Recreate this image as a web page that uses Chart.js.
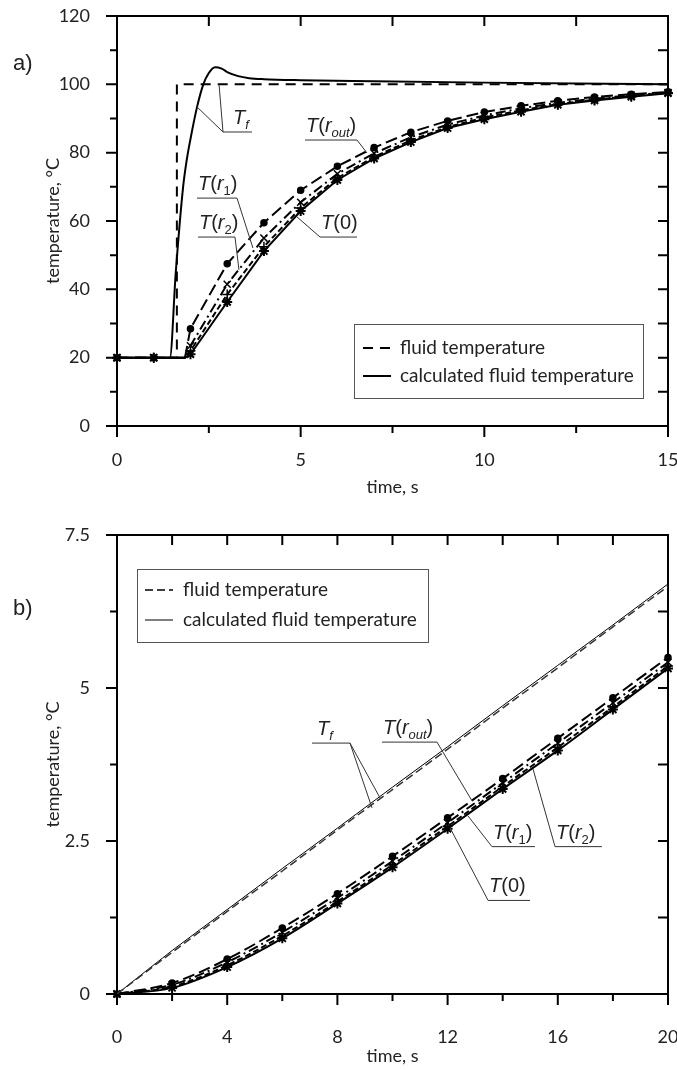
<!DOCTYPE html>
<html>
<head>
<meta charset="utf-8">
<script src="https://cdn.jsdelivr.net/npm/chart.js@4.4.1/dist/chart.umd.min.js"></script>
<style>
  html, body { margin: 0; padding: 0; overflow: hidden; background: #fff; width: 677px; height: 1070px; }
  .wrap { position: absolute; left: 0; }
  #wrapA { top: 0; }
  #wrapB { top: 520px; }
</style>
</head>
<body>
<div class="wrap" id="wrapA"><canvas id="chartA" width="700" height="520" style="width:700px;height:520px"></canvas></div>
<div class="wrap" id="wrapB"><canvas id="chartB" width="700" height="550" style="width:700px;height:550px"></canvas></div>
<script>
// ---- panel a) data, time in s, temperature in C ----
const timeA = [0, 1, 1.85, 2, 3, 4, 5, 6, 7, 8, 9, 10, 11, 12, 13, 14, 15];
const rOutA = [20, 20, 20, 28.5, 47.5, 59.5, 69, 76, 81.5, 86, 89.3, 91.9, 93.7, 95.2, 96.3, 97.1, 97.8];
const r1A   = [20, 20, 20, 23.5, 41.5, 55, 65.5, 73.8, 79.8, 84.5, 88.2, 90.9, 93, 94.6, 95.8, 96.8, 97.6];
const r2A   = [20, 20, 20, 22, 38.5, 52.5, 63.8, 72.6, 78.8, 83.6, 87.5, 90.3, 92.4, 94.2, 95.5, 96.6, 97.5];
const t0A   = [20, 20, 20, 21, 36.3, 51.2, 62.9, 72, 78.3, 83.1, 87.2, 89.8, 92, 94, 95.3, 96.4, 97.4];

const timeFluidA = [0, 1.63, 1.63, 15];
const fluidA     = [20, 20, 100, 100];

const timeCalcA = [0, 1.44, 1.6, 1.8, 1.9, 2.0, 2.18, 2.35, 2.5, 2.67, 2.85, 3.0, 3.3, 3.6, 4.0, 5, 7, 10, 15];
const calcA     = [20, 20, 45, 70, 78, 84, 93.4, 100, 103.3, 105, 104.6, 103.6, 102.4, 101.8, 101.5, 101.2, 100.9, 100.5, 100.0];

// ---- panel b) data ----
const timeB  = [0, 2, 4, 6, 8, 10, 12, 14, 16, 18, 20];
const fluidB = [0, 0.68, 1.35, 2.01, 2.68, 3.34, 4.0, 4.67, 5.33, 6.0, 6.66];
const calcB  = [0, 0.71, 1.38, 2.05, 2.71, 3.38, 4.04, 4.71, 5.37, 6.03, 6.7];
const rOutB  = [0, 0.18, 0.57, 1.08, 1.64, 2.25, 2.88, 3.52, 4.18, 4.84, 5.5];
const r1B    = [0, 0.15, 0.52, 1.01, 1.57, 2.17, 2.8, 3.45, 4.1, 4.76, 5.42];
const r2B    = [0, 0.12, 0.47, 0.95, 1.51, 2.11, 2.74, 3.39, 4.03, 4.69, 5.36];
const t0B    = [0, 0.1, 0.44, 0.91, 1.48, 2.07, 2.7, 3.35, 3.98, 4.65, 5.32];

const legendLabels = ['fluid temperature', 'calculated fluid temperature'];

Chart.defaults.font.family = 'Lato';
Chart.defaults.color = '#222';

const pts = (xs, ys) => xs.map((x, i) => ({x: x, y: ys[i]}));
const isMajor = (v, step) => Math.abs(v / step - Math.round(v / step)) < 1e-6;

// frame round the plot and the tick marks (outside on bottom/left, inside on top/right)
const framePlugin = {
  id: 'frame',
  beforeDatasetsDraw(chart, args, opts) {
    const {ctx, chartArea: a, scales: {x, y}} = chart;
    ctx.save();
    ctx.strokeStyle = '#000';
    ctx.lineWidth = 2;
    ctx.strokeRect(a.left, a.top, a.right - a.left, a.bottom - a.top);
    ctx.beginPath();
    x.ticks.forEach(t => {
      const p = x.getPixelForValue(t.value);
      const len = isMajor(t.value, opts.xMajor) ? 11 : 7;
      ctx.moveTo(p, a.bottom); ctx.lineTo(p, a.bottom + len);
      ctx.moveTo(p, a.top); ctx.lineTo(p, a.top + 10);
    });
    y.ticks.forEach(t => {
      const p = y.getPixelForValue(t.value);
      const len = isMajor(t.value, opts.yMajor) ? 11 : 7;
      ctx.moveTo(a.left - len, p); ctx.lineTo(a.left, p);
      ctx.moveTo(a.right - 10, p); ctx.lineTo(a.right, p);
    });
    ctx.stroke();
    ctx.restore();
  }
};

function drawRich(ctx, segs, x, y) {
  segs.forEach(s => {
    const size = s.sub ? 13 : 20;
    ctx.font = (s.it ? 'italic ' : '') + size + 'px "Liberation Sans"';
    ctx.fillText(s.t, x, s.sub ? y + 5 : y);
    x += ctx.measureText(s.t).width;
  });
}

// legend box, curve labels and the panel letter
const notesPlugin = {
  id: 'notes',
  afterDraw(chart, args, opts) {
    const {ctx, scales: {x, y}} = chart;
    ctx.save();
    ctx.fillStyle = '#222';
    ctx.textBaseline = 'alphabetic';
    ctx.font = '22px "Liberation Sans"';
    ctx.fillText(opts.panel.text, opts.panel.x, opts.panel.y);

    ctx.strokeStyle = '#333';
    ctx.lineWidth = 1;
    opts.items.forEach(it => {
      const x1 = x.getPixelForValue(it.x1), x2 = x.getPixelForValue(it.x2), py = y.getPixelForValue(it.y);
      const sx = it.from === 'left' ? x1 : x2;
      ctx.beginPath();
      ctx.moveTo(x1, py); ctx.lineTo(x2, py);
      it.to.forEach(p => {
        ctx.moveTo(sx, py);
        ctx.lineTo(x.getPixelForValue(p[0]), y.getPixelForValue(p[1]));
      });
      ctx.stroke();
      drawRich(ctx, it.segs, x1 + (it.dx || 1), py - 8);
    });

    const lg = opts.legend;
    ctx.strokeStyle = '#555';
    ctx.strokeRect(lg.x + 0.5, lg.y + 0.5, lg.w, lg.h);
    lg.rows.forEach((r, i) => {
      const ds = chart.data.datasets[i];
      ctx.save();
      ctx.strokeStyle = '#000';
      ctx.lineWidth = ds.borderWidth;
      ctx.setLineDash(ds.borderDash || []);
      ctx.beginPath();
      ctx.moveTo(lg.x1, r); ctx.lineTo(lg.x2, r);
      ctx.stroke();
      ctx.restore();
      ctx.font = '19px Lato';
      ctx.textBaseline = 'middle';
      ctx.fillText(legendLabels[i], lg.tx, r);
    });
    ctx.restore();
  }
};

const segT = (inner, sub) => {
  const s = [{t: 'T', it: true}, {t: '('}];
  if (inner === 'r') { s.push({t: 'r', it: true}); s.push({t: sub, it: sub === 'out', sub: true}); }
  else s.push({t: inner});
  s.push({t: ')'});
  return s;
};
const segTf = [{t: 'T', it: true}, {t: 'f', it: true, sub: true}];

// smooth: monotone curve, otherwise straight pieces between the points
function tempSeries(xs, ys, style, dash, width, markerAll, smooth) {
  const radius = {circle: 3, crossRot: 5, cross: 5, star: 5}[style];
  return {
    data: pts(xs, ys),
    borderColor: '#000',
    borderWidth: width,
    borderDash: dash,
    pointStyle: style,
    pointRadius: c => (markerAll || Number.isInteger(xs[c.dataIndex])) ? radius : 0,
    pointBackgroundColor: '#000',
    pointBorderColor: '#000',
    pointBorderWidth: style === 'star' ? 2 : 1.5,
    cubicInterpolationMode: smooth ? 'monotone' : 'default',
    tension: 0,
    clip: false
  };
}

// fixed box sizes so that the plot area sits where it does in the original
function noPad(s) { s.paddingTop = 0; s.paddingBottom = 0; s.paddingLeft = 0; s.paddingRight = 0; }

function axes(o) {
  const fnt = {family: 'Lato', size: 18};
  return {
    x: {
      type: 'linear', min: 0, max: o.xMax,
      afterFit: s => { s.height = o.xHeight; noPad(s); },
      grid: {display: false}, border: {display: false},
      ticks: {stepSize: o.xStep, padding: o.xPad, autoSkip: false, maxRotation: 0, font: fnt, color: '#222',
              callback: v => isMajor(v, o.xMajor) ? String(v) : ''},
      title: {display: true, text: 'time, s', font: fnt, color: '#222', padding: {top: 0, bottom: o.xTitlePad}}
    },
    y: {
      type: 'linear', min: 0, max: o.yMax,
      afterFit: s => { s.width = 117; noPad(s); },
      grid: {display: false}, border: {display: false},
      ticks: {stepSize: o.yStep, padding: 19, autoSkip: false, font: fnt, color: '#222',
              callback: v => isMajor(v, o.yMajor) ? String(v) : ''},
      title: {display: true, text: 'temperature, °C', font: fnt, color: '#222', padding: {top: 42, bottom: 0}}
    }
  };
}

new Chart(document.getElementById('chartA'), {
  type: 'line',
  data: {
    datasets: [
      {data: pts(timeFluidA, fluidA), borderColor: '#000', borderWidth: 2, borderDash: [10, 7], pointRadius: 0, tension: 0},
      {data: pts(timeCalcA, calcA), borderColor: '#000', borderWidth: 2, pointRadius: 0, cubicInterpolationMode: 'monotone'},
      tempSeries(timeA, rOutA, 'circle', [12, 5], 2, false, false),
      tempSeries(timeA, r1A, 'crossRot', [10, 4, 2, 4], 2, false, false),
      tempSeries(timeA, r2A, 'cross', [6, 3], 2, false, false),
      tempSeries(timeA, t0A, 'star', [], 2, false, false)
    ]
  },
  options: {
    responsive: false, animation: false,
    layout: {padding: {top: 16, right: 32, left: 0, bottom: 0}},
    scales: axes({xMax: 15, xStep: 2.5, xMajor: 5, xHeight: 94, xPad: 15, xTitlePad: 22,
                  yMax: 120, yStep: 10, yMajor: 20}),
    plugins: {
      legend: {display: false}, tooltip: {enabled: false},
      frame: {xMajor: 5, yMajor: 20},
      notes: {
        panel: {text: 'a)', x: 13, y: 70},
        legend: {x: 354, y: 324, w: 289, h: 74, rows: [348, 376], x1: 363, x2: 391, tx: 400},
        items: [
          {segs: segTf, x1: 2.886, x2: 3.675, y: 86.05, dx: 10, from: 'left', to: [[2.178, 93.4], [2.777, 100.1]]},
          {segs: segT('r', 'out'), x1: 5.118, x2: 6.534, y: 83.7, from: 'right', to: [[6.806, 79.9]]},
          {segs: segT('r', '1'), x1: 2.178, x2: 3.267, y: 66.7, from: 'right', to: [[3.70, 52.1]]},
          {segs: segT('r', '2'), x1: 2.205, x2: 3.212, y: 55.3, from: 'right', to: [[3.32, 45.7]]},
          {segs: segT('0'), x1: 5.527, x2: 6.534, y: 55.3, from: 'left', to: [[4.90, 61.2]]}
        ]
      }
    }
  },
  plugins: [framePlugin, notesPlugin]
});

new Chart(document.getElementById('chartB'), {
  type: 'line',
  data: {
    datasets: [
      {data: pts(timeB, fluidB), borderColor: '#333', borderWidth: 1.5, borderDash: [8, 4], pointRadius: 0, cubicInterpolationMode: 'monotone'},
      {data: pts(timeB, calcB), borderColor: '#000', borderWidth: 1, pointRadius: 0, cubicInterpolationMode: 'monotone'},
      tempSeries(timeB, rOutB, 'circle', [12, 5], 2, true, true),
      tempSeries(timeB, r1B, 'crossRot', [10, 4, 2, 4], 2, true, true),
      tempSeries(timeB, r2B, 'cross', [6, 3], 2, true, true),
      tempSeries(timeB, t0B, 'star', [], 2, true, true)
    ]
  },
  options: {
    responsive: false, animation: false,
    layout: {padding: {top: 15, right: 32, left: 0, bottom: 0}},
    scales: axes({xMax: 20, xStep: 2, xMajor: 4, xHeight: 76, xPad: 24, xTitlePad: 3,
                  yMax: 7.5, yStep: 1.25, yMajor: 2.5}),
    plugins: {
      legend: {display: false}, tooltip: {enabled: false},
      frame: {xMajor: 4, yMajor: 2.5},
      notes: {
        panel: {text: 'b)', x: 13, y: 95},
        legend: {x: 137, y: 49, w: 291, h: 73, rows: [70, 100], x1: 145, x2: 173, tx: 183},
        items: [
          {segs: segTf, x1: 7.078, x2: 8.457, y: 4.10, dx: 5, from: 'right', to: [[9.546, 3.205], [9.256, 3.042]]},
          {segs: segT('r', 'out'), x1: 9.619, x2: 11.615, y: 4.116, from: 'right', to: [[12.886, 3.156]]},
          {segs: segT('r', '1'), x1: 13.61, x2: 15.17, y: 2.408, from: 'left', to: [[12.74, 2.91]]},
          {segs: segT('r', '2'), x1: 15.9, x2: 17.6, y: 2.408, from: 'left', to: [[15.1, 3.677]]},
          {segs: segT('0'), x1: 13.47, x2: 14.99, y: 1.529, from: 'left', to: [[12.087, 2.717]]}
        ]
      }
    }
  },
  plugins: [framePlugin, notesPlugin]
});
</script>
</body>
</html>
